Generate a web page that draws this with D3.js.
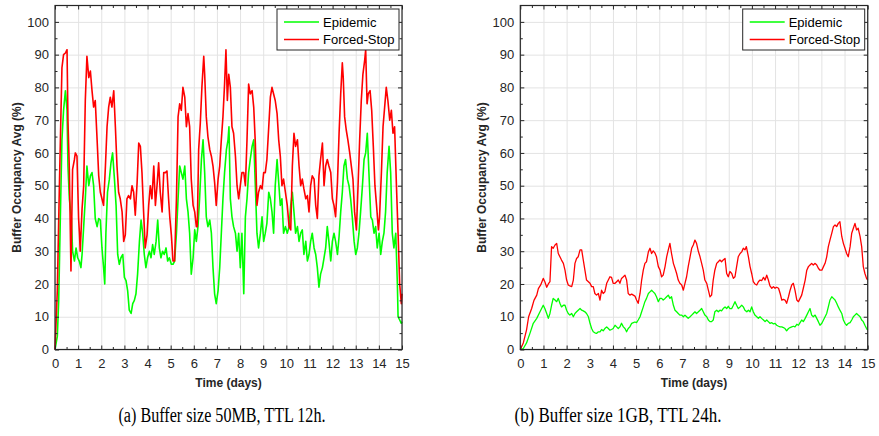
<!DOCTYPE html>
<html>
<head>
<meta charset="utf-8">
<script src="https://cdn.jsdelivr.net/npm/d3@7"></script>
<style>
  body { margin: 0; background: #fff; }
  svg text { font-family: "Liberation Sans", Arial, sans-serif; }
</style>
</head>
<body>
<div id="chart"></div>
<script>
// Data (days, %)
const seriesNames = ['Epidemic', 'Forced-Stop'];
const xTicks = d3.range(0, 16, 1);
const yTicks = d3.range(0, 101, 10);
const captions = ['(a) Buffer size 50MB, TTL 12h.', '(b) Buffer size 1GB, TTL 24h.'];

// Panel (a): 50MB, TTL 12h
const epidemicA = [[0,0],[0.1,4],[0.16,15],[0.23,40],[0.3,64],[0.37,73],[0.45,79],[0.52,73],[0.56,56],[0.62,46],[0.71,40],[0.76,30],[0.84,27],[0.91,31],[0.98,28],[1.05,27],[1.12,25],[1.17,29],[1.24,37.5],[1.31,46],[1.38,56],[1.46,50],[1.53,53],[1.6,54],[1.67,50],[1.74,40],[1.82,37.5],[1.89,40],[1.96,39.5],[2.03,31],[2.1,25],[2.15,20],[2.2,35.5],[2.27,48],[2.35,52],[2.42,57],[2.49,60],[2.57,52],[2.64,44],[2.71,29],[2.78,26],[2.85,28],[2.93,29],[3.0,22],[3.07,21],[3.14,18],[3.21,12],[3.29,11],[3.36,14],[3.43,15],[3.5,17],[3.57,23],[3.65,33],[3.72,39.5],[3.79,35.5],[3.86,29],[3.93,25],[4.0,28],[4.08,30],[4.15,28],[4.22,32],[4.29,29],[4.37,33],[4.44,39.5],[4.51,31],[4.58,28],[4.65,30],[4.72,29],[4.8,31],[4.87,27],[4.94,28],[5.03,26],[5.1,26],[5.17,27],[5.25,35.5],[5.32,46],[5.39,56],[5.46,54],[5.53,52],[5.61,56],[5.68,46],[5.75,42],[5.82,35.5],[5.89,23],[5.97,28],[6.04,36.5],[6.11,33],[6.18,37.5],[6.25,46],[6.33,58],[6.4,64],[6.47,54],[6.54,40.5],[6.61,37.5],[6.69,39.5],[6.76,35.5],[6.83,25],[6.9,17],[6.97,14],[7.05,18],[7.12,25],[7.19,35.5],[7.26,46],[7.33,54],[7.41,61],[7.48,64],[7.52,68],[7.58,46],[7.65,40.5],[7.72,37.5],[7.8,35.5],[7.87,30],[7.94,35.5],[8.01,25],[8.08,35.5],[8.16,17],[8.23,40.5],[8.3,46],[8.37,54],[8.44,58],[8.52,62],[8.59,64],[8.66,50],[8.73,35.5],[8.8,31],[8.88,35.5],[8.95,40.5],[9.02,33],[9.09,35.5],[9.16,38.5],[9.24,48],[9.31,46],[9.38,42],[9.45,35.5],[9.52,50],[9.6,58],[9.67,51],[9.74,44],[9.81,46],[9.88,35.5],[9.96,37.5],[10.04,35.5],[10.12,37.5],[10.19,44],[10.26,48],[10.33,42],[10.4,35.5],[10.48,37.5],[10.55,33],[10.62,35.5],[10.69,36.5],[10.76,29],[10.84,33],[10.91,27],[10.98,29],[11.05,33],[11.12,35.5],[11.2,31],[11.27,29],[11.34,25],[11.41,19],[11.48,23],[11.56,25],[11.63,28],[11.7,31],[11.77,37.5],[11.84,33],[11.92,27],[11.99,33],[12.06,35.5],[12.13,33],[12.21,29],[12.28,34.5],[12.35,42],[12.42,48],[12.49,56],[12.56,58],[12.64,52],[12.71,50],[12.78,46],[12.85,40.5],[12.93,33],[13.0,29],[13.07,31],[13.14,35.5],[13.21,42],[13.29,50],[13.36,58],[13.43,60],[13.5,66],[13.57,54],[13.65,40.5],[13.72,39.5],[13.79,35.5],[13.86,37.5],[13.93,31],[14.01,35.5],[14.08,29],[14.15,33],[14.22,35.5],[14.29,42],[14.36,54],[14.44,62],[14.51,54],[14.58,35.5],[14.65,31],[14.73,35.5],[14.8,20],[14.83,10],[14.9,9],[14.97,8],[15,8.5]];
const forcedStopA = [[0,0],[0.1,18],[0.19,50],[0.3,86],[0.37,90],[0.45,90.5],[0.52,91.5],[0.56,70],[0.62,55],[0.69,24],[0.76,55],[0.84,58],[0.88,60],[0.95,59],[1.02,40],[1.06,35],[1.09,30],[1.17,43],[1.24,50],[1.31,76],[1.38,89.5],[1.46,83],[1.53,85],[1.6,79],[1.67,74],[1.74,76],[1.82,64],[1.89,53],[1.96,48],[2.03,46],[2.1,44],[2.18,56],[2.25,68],[2.32,74],[2.39,77],[2.46,74],[2.54,79],[2.61,68],[2.68,56],[2.75,48],[2.82,46],[2.9,42],[2.97,33],[3.04,35],[3.11,46],[3.18,47],[3.26,46],[3.33,50],[3.4,48],[3.47,41],[3.55,51],[3.62,63],[3.69,62],[3.76,54],[3.83,42],[3.9,31],[3.98,35],[4.05,44],[4.12,50],[4.19,46],[4.27,56],[4.34,44],[4.41,50],[4.48,57],[4.55,48],[4.63,42],[4.7,54],[4.77,54],[4.84,54.5],[4.91,46],[4.96,40.5],[5.03,35],[5.1,27],[5.17,27],[5.25,46],[5.32,71],[5.39,75],[5.46,73],[5.53,80],[5.61,77],[5.68,68],[5.75,72],[5.82,68],[5.89,52],[5.97,44],[6.04,42],[6.11,37.5],[6.15,37.5],[6.21,61],[6.28,69],[6.35,80],[6.43,89.5],[6.47,84],[6.54,71],[6.61,65],[6.69,61],[6.76,59],[6.83,56],[6.9,51],[6.97,44],[7.05,52],[7.12,56],[7.19,64],[7.26,71],[7.33,81],[7.39,91.5],[7.45,76],[7.51,84],[7.58,80],[7.65,68],[7.72,66],[7.8,59],[7.87,50],[7.94,46],[8.01,50],[8.08,54],[8.16,54],[8.23,50],[8.3,64],[8.37,81],[8.44,78],[8.52,79],[8.59,74],[8.66,63],[8.73,44],[8.8,48],[8.88,50],[8.95,49],[9.02,54],[9.09,54],[9.16,58],[9.24,68],[9.31,77],[9.38,80],[9.45,78],[9.52,76],[9.6,72],[9.67,64],[9.74,59],[9.81,50],[9.88,52],[9.96,48],[10.04,44],[10.12,37.5],[10.19,36.5],[10.26,56],[10.33,66],[10.4,62],[10.48,64],[10.55,56],[10.62,50],[10.69,52],[10.76,49],[10.84,46],[10.91,47],[10.98,42],[11.05,50],[11.12,53],[11.2,52],[11.27,44],[11.34,40],[11.41,53],[11.48,58],[11.56,63],[11.63,50],[11.7,56],[11.77,58],[11.84,56],[11.92,54],[11.99,46],[12.06,44],[12.13,40.5],[12.21,51],[12.28,66],[12.35,78],[12.42,87.5],[12.46,83],[12.52,71],[12.59,67],[12.66,64],[12.74,60],[12.81,56],[12.88,52],[12.95,42],[13.03,36.5],[13.1,50],[13.17,64],[13.24,76],[13.31,84],[13.39,88.5],[13.43,91.5],[13.49,75],[13.54,78],[13.62,79],[13.69,73],[13.76,62],[13.83,50],[13.9,44],[13.98,36.5],[14.03,40.5],[14.11,54],[14.18,68],[14.25,74],[14.32,80],[14.39,76],[14.47,70],[14.54,73],[14.61,66],[14.68,68],[14.76,50],[14.83,35.5],[14.9,20],[14.97,14],[15,17]];

// Panel (b): 1GB, TTL 24h
const epidemicB = [[0,0],[0.13,0.3],[0.27,2],[0.42,5],[0.56,8],[0.71,9.5],[0.85,11.5],[0.99,13.5],[1.06,12.5],[1.14,11],[1.21,9.5],[1.28,11],[1.35,13.5],[1.42,15.6],[1.5,15.1],[1.57,14.6],[1.64,15.6],[1.71,14.1],[1.78,13],[1.86,13.5],[1.93,13.5],[2.0,12],[2.07,11],[2.14,10.5],[2.22,11],[2.29,10],[2.36,11],[2.43,11.5],[2.5,12],[2.58,12.5],[2.65,12],[2.72,11.8],[2.79,11.5],[2.86,11],[2.94,10],[3.01,8],[3.08,6.4],[3.15,5.4],[3.22,5.1],[3.29,4.9],[3.37,5.4],[3.44,5.4],[3.51,6.1],[3.58,5.7],[3.65,6.4],[3.73,6.9],[3.8,6.4],[3.87,5.9],[3.94,6.1],[4.01,6.4],[4.09,7.4],[4.16,6.9],[4.23,6.4],[4.3,6.9],[4.37,8],[4.45,6.9],[4.52,6.4],[4.59,5.4],[4.66,6.4],[4.73,6.9],[4.81,8],[4.88,8.2],[4.95,8.4],[5.02,8.2],[5.09,9],[5.17,10],[5.24,11.5],[5.31,13],[5.38,14.6],[5.45,15.6],[5.53,17.1],[5.6,17.6],[5.67,18.1],[5.74,17.6],[5.81,17.1],[5.88,16.1],[5.96,14.6],[6.03,15.6],[6.1,15.6],[6.17,15.1],[6.25,15.6],[6.32,16.1],[6.39,16.6],[6.46,15.6],[6.53,16.1],[6.61,13.5],[6.68,12],[6.75,11.5],[6.82,11],[6.89,10.5],[6.97,10.5],[7.04,10],[7.11,10.5],[7.18,10],[7.25,9.5],[7.33,10],[7.4,10.5],[7.47,11],[7.54,11.5],[7.61,11],[7.69,11.5],[7.76,12],[7.83,12.5],[7.9,11.5],[7.97,10.5],[8.05,10],[8.12,9],[8.19,8.5],[8.26,8.5],[8.33,9],[8.4,11.5],[8.48,12],[8.55,11.5],[8.62,12],[8.69,11.8],[8.76,12.5],[8.84,13],[8.91,12.5],[8.98,13.2],[9.05,12.5],[9.13,12.5],[9.2,13.5],[9.27,14.6],[9.34,13.5],[9.41,12.5],[9.49,13],[9.56,13.5],[9.63,13],[9.7,12],[9.78,11.5],[9.85,12],[9.92,11.5],[9.99,13],[10.06,11.5],[10.13,10.5],[10.21,10],[10.28,9.5],[10.35,10],[10.42,9.5],[10.5,9],[10.57,8.5],[10.64,9],[10.71,8.5],[10.78,8],[10.86,8.2],[10.93,7.8],[11.0,8],[11.07,7.4],[11.15,7.1],[11.22,6.9],[11.29,6.9],[11.36,6.7],[11.43,6.4],[11.5,5.7],[11.58,6.4],[11.65,6.7],[11.72,6.9],[11.79,7.1],[11.86,6.9],[11.94,7.7],[12.01,7.4],[12.08,8.2],[12.15,9],[12.22,8.5],[12.3,9.5],[12.37,10.5],[12.44,11.5],[12.51,12.5],[12.58,10.5],[12.65,10],[12.73,10.5],[12.8,9.5],[12.87,8.5],[12.94,7.4],[13.02,8],[13.09,9],[13.16,10],[13.23,11],[13.3,13],[13.37,15.1],[13.45,16.1],[13.52,15.6],[13.59,15.1],[13.66,14.1],[13.73,13],[13.8,12],[13.88,11],[13.95,9],[14.02,8],[14.09,7.4],[14.16,8],[14.24,8.2],[14.31,9],[14.38,10],[14.45,10.5],[14.52,11],[14.59,10.5],[14.67,10],[14.74,9],[14.81,8.5],[14.88,7.4],[14.95,6.4],[15,5.9]];
const forcedStopB = [[0,0],[0.13,2],[0.27,6],[0.36,10],[0.49,12.5],[0.59,15],[0.71,16.6],[0.78,18.6],[0.88,19.7],[0.99,21.7],[1.06,20.7],[1.14,19],[1.21,20],[1.28,20.7],[1.35,31.4],[1.42,30.9],[1.5,31.9],[1.57,32.4],[1.64,29.3],[1.71,28.3],[1.78,27.3],[1.86,26.3],[1.93,24.2],[2.0,21.2],[2.07,19.7],[2.14,19.4],[2.22,19.2],[2.29,21.2],[2.36,26.3],[2.43,27.8],[2.5,28.3],[2.58,30.4],[2.65,30.4],[2.72,27.3],[2.79,24.2],[2.86,21.2],[2.94,20.7],[3.01,20.2],[3.08,19.2],[3.15,19.2],[3.22,17.1],[3.29,16.6],[3.37,17.1],[3.44,15.1],[3.51,18.1],[3.58,17.1],[3.65,17.6],[3.73,20.2],[3.8,21.2],[3.87,22.2],[3.94,22],[4.01,20.2],[4.09,20.2],[4.16,20.7],[4.23,21.2],[4.3,20.2],[4.37,21.7],[4.45,22.2],[4.52,22.7],[4.59,21.2],[4.66,17.1],[4.73,16.6],[4.81,16.9],[4.88,16.6],[4.95,16.3],[5.02,15.1],[5.09,14.1],[5.17,17.1],[5.24,21.2],[5.31,24.2],[5.38,26.3],[5.45,26.8],[5.53,29.8],[5.6,30.9],[5.67,29.3],[5.74,30.1],[5.81,29.5],[5.88,28.3],[5.96,25.3],[6.03,24.3],[6.1,22.2],[6.17,22.7],[6.25,25.3],[6.32,28.3],[6.39,30.4],[6.46,32.4],[6.53,29.3],[6.61,26.3],[6.68,24.8],[6.75,23.2],[6.82,21.2],[6.89,20.2],[6.97,19.7],[7.04,18.1],[7.11,20.2],[7.18,22.2],[7.25,25.3],[7.33,28.3],[7.4,30.9],[7.47,31.9],[7.54,33.4],[7.61,32.4],[7.69,29.9],[7.76,28.3],[7.83,26.3],[7.9,24.2],[7.97,21.2],[8.05,20.2],[8.12,18.1],[8.19,16.1],[8.26,16.6],[8.33,21.2],[8.4,24.2],[8.48,26.3],[8.55,26.8],[8.62,27.3],[8.69,26.8],[8.76,27.3],[8.84,27.8],[8.91,23.2],[8.98,22.2],[9.05,23.8],[9.13,23.2],[9.2,21.7],[9.27,22.2],[9.34,25.3],[9.41,28.3],[9.49,29.3],[9.56,29.8],[9.63,30.9],[9.7,30.4],[9.76,31.4],[9.85,28.3],[9.92,25.3],[9.99,23.2],[10.06,20.7],[10.13,20],[10.21,19.7],[10.28,20.7],[10.35,21.2],[10.42,21],[10.5,22],[10.57,21.2],[10.64,22.7],[10.71,21.2],[10.78,19.4],[10.86,18.7],[10.93,19.2],[11.0,18.7],[11.07,19],[11.15,18.7],[11.22,17.1],[11.29,15.1],[11.36,15.3],[11.43,15.1],[11.5,14.1],[11.58,16.1],[11.65,18.1],[11.72,19.7],[11.79,20.2],[11.86,18.1],[11.94,15.1],[12.01,14.6],[12.08,15.6],[12.15,16.6],[12.22,18.7],[12.3,21.2],[12.37,24.2],[12.44,25.3],[12.51,25.8],[12.58,26.3],[12.65,25.8],[12.73,26.3],[12.8,25.8],[12.87,24.8],[12.94,24.2],[13.02,24.2],[13.09,25.3],[13.16,26.3],[13.23,28.3],[13.3,31.4],[13.37,33.4],[13.45,35.5],[13.52,37.5],[13.59,38],[13.66,37.5],[13.73,38.5],[13.8,39],[13.88,34.5],[13.95,32.4],[14.02,30.9],[14.09,29.3],[14.16,28.3],[14.24,31.4],[14.31,35.5],[14.38,37],[14.45,38.5],[14.52,36.5],[14.59,37],[14.67,34.5],[14.74,31.4],[14.81,25.3],[14.88,23.2],[14.95,21.7],[15,21.2]];

//Visual
const width = 879;
const height = 436;
const colors = ['#00ff00', '#ff0000'];
const plotTop = 5.5, plotBottom = 349.5;
const panels = [
  { left: 55, right: 402, series: [epidemicA, forcedStopA], lw: 1.6, caption: captions[0], capX: 222, ylabX: 17 },
  { left: 520.3, right: 867.7, series: [epidemicB, forcedStopB], lw: 1.3, caption: captions[1], capX: 618, ylabX: 482 }
];

const svg = d3.select('#chart')
  .append('svg')
  .attr('width', width)
  .attr('height', height);

svg.append('rect').attr('width', width).attr('height', height).attr('fill', '#fff');

panels.forEach(p => drawPanel(p));

function drawPanel(p) {
  const x = d3.scaleLinear().domain([0, 15]).range([p.left, p.right]);
  const y = d3.scaleLinear().domain([0, 105]).range([plotBottom, plotTop]);
  const g = svg.append('g');
  const w = p.right - p.left, h = plotBottom - plotTop;

  // grid
  g.append('g')
    .attr('transform', `translate(0,${plotBottom})`)
    .call(d3.axisBottom(x).tickValues(xTicks).tickSize(-h).tickFormat(''))
    .call(s => s.select('.domain').remove())
    .call(s => s.selectAll('line').attr('stroke', '#e3e3e3').attr('stroke-width', 1));
  g.append('g')
    .attr('transform', `translate(${p.left},0)`)
    .call(d3.axisLeft(y).tickValues(yTicks).tickSize(-w).tickFormat(''))
    .call(s => s.select('.domain').remove())
    .call(s => s.selectAll('line').attr('stroke', '#e3e3e3').attr('stroke-width', 1));

  // lines
  const line = d3.line().x(d => x(d[0])).y(d => y(d[1]));
  p.series.forEach((data, i) => {
    g.append('path')
      .datum(data)
      .attr('d', line)
      .attr('fill', 'none')
      .attr('stroke', colors[i])
      .attr('stroke-width', p.lw)
      .attr('stroke-linejoin', 'round');
  });

  // axes with inward ticks on every side
  const minorX = d3.range(0.5, 15, 1);
  const minorY = d3.range(5, 105, 10);
  const styleAxis = s => {
    s.select('.domain').remove();
    s.selectAll('line').attr('stroke', '#262626');
    s.selectAll('text').attr('fill', '#262626').style('font-size', '13px');
  };
  g.append('g').attr('transform', `translate(0,${plotBottom})`)
    .call(d3.axisBottom(x).tickValues(xTicks).tickSize(-4).tickPadding(9).tickFormat(d3.format('d')))
    .call(styleAxis);
  g.append('g').attr('transform', `translate(0,${plotBottom})`)
    .call(d3.axisBottom(x).tickValues(minorX).tickSize(-2.5).tickFormat('')).call(styleAxis);
  g.append('g').attr('transform', `translate(0,${plotTop})`)
    .call(d3.axisTop(x).tickValues(xTicks).tickSize(-4).tickFormat('')).call(styleAxis);
  g.append('g').attr('transform', `translate(0,${plotTop})`)
    .call(d3.axisTop(x).tickValues(minorX).tickSize(-2.5).tickFormat('')).call(styleAxis);
  g.append('g').attr('transform', `translate(${p.left},0)`)
    .call(d3.axisLeft(y).tickValues(yTicks).tickSize(-4).tickPadding(6).tickFormat(d3.format('d')))
    .call(styleAxis);
  g.append('g').attr('transform', `translate(${p.left},0)`)
    .call(d3.axisLeft(y).tickValues(minorY).tickSize(-2.5).tickFormat('')).call(styleAxis);
  g.append('g').attr('transform', `translate(${p.right},0)`)
    .call(d3.axisRight(y).tickValues(yTicks).tickSize(-4).tickFormat('')).call(styleAxis);
  g.append('g').attr('transform', `translate(${p.right},0)`)
    .call(d3.axisRight(y).tickValues(minorY).tickSize(-2.5).tickFormat('')).call(styleAxis);

  // box
  g.append('rect')
    .attr('x', p.left).attr('y', plotTop).attr('width', w).attr('height', h)
    .attr('fill', 'none').attr('stroke', '#262626').attr('stroke-width', 1.2);

  // axis titles
  g.append('text')
    .text('Time (days)')
    .attr('x', (p.left + p.right) / 2).attr('y', 387)
    .attr('text-anchor', 'middle')
    .style('font-size', '12px').style('font-weight', 'bold').attr('fill', '#262626');
  g.append('text')
    .text('Buffer Occupancy Avg (%)')
    .attr('transform', `translate(${p.ylabX},${(plotTop + plotBottom) / 2}) rotate(-90)`)
    .attr('text-anchor', 'middle').attr('dy', '0.35em')
    .style('font-size', '12px').style('font-weight', 'bold').attr('fill', '#262626');

  // legend
  const lx = p.right - 125, ly = plotTop + 3.5;
  const leg = g.append('g').attr('transform', `translate(${lx},${ly})`);
  leg.append('rect').attr('width', 122).attr('height', 41)
    .attr('fill', '#fff').attr('stroke', '#262626').attr('stroke-width', 1);
  seriesNames.forEach((name, i) => {
    const yy = 13 + i * 17.5;
    leg.append('line').attr('x1', 7).attr('x2', 42).attr('y1', yy).attr('y2', yy)
      .attr('stroke', colors[i]).attr('stroke-width', p.lw);
    leg.append('text').text(name).attr('x', 46).attr('y', yy).attr('dy', '0.35em')
      .style('font-size', '13px').attr('fill', '#000');
  });

  // caption
  svg.append('text')
    .text(p.caption)
    .attr('x', p.capX).attr('y', 422)
    .attr('text-anchor', 'middle')
    .style('font-family', '"Liberation Serif", "DejaVu Serif", serif')
    .style('font-size', '20px')
    .attr('textLength', 207).attr('lengthAdjust', 'spacingAndGlyphs')
    .attr('fill', '#000');
}
</script>
</body>
</html>
